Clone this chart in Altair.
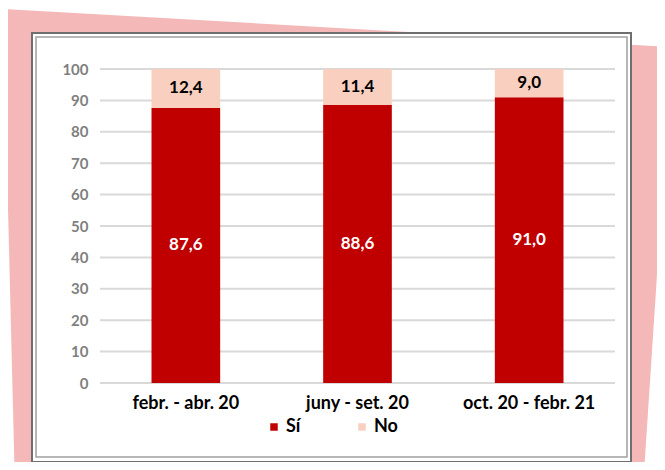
import altair as alt
import pandas as pd

categories = ["febr. - abr. 20", "juny - set. 20", "oct. 20 - febr. 21"]
si_values = [87.6, 88.6, 91.0]
no_values = [12.4, 11.4, 9.0]
series = ["Sí", "No"]
colors = ["#C00000", "#F9D0C0"]
y_ticks = list(range(0, 101, 10))

rows = []
for c, s, n in zip(categories, si_values, no_values):
    rows.append({"cat": c, "serie": "Sí", "value": s, "ord": 0})
    rows.append({"cat": c, "serie": "No", "value": n, "ord": 1})
df = pd.DataFrame(rows)

FONT = "Lato"
W, H = 515, 314
PAD = {"left": 92, "top": 61, "right": 42, "bottom": 79}

# decorative pink tilted sheet (custom symbol path, unit coords)
sheet_path = "M -0.8425 -0.5775 L 0.83 -0.4825 L 0.7575 0.62 L -0.8125 0.62 Z"
sheet = alt.Chart(alt.Data(values=[{}])).mark_point(
    shape=sheet_path, filled=True, fill="#F4B8B8", opacity=1, strokeWidth=0
).encode(x=alt.value(240), y=alt.value(171), size=alt.value(640000))

box_outer = alt.Chart(alt.Data(values=[{}])).mark_rect(
    fill="white", stroke="#6f6f6f", strokeWidth=2
).encode(x=alt.value(-68), x2=alt.value(531), y=alt.value(-36), y2=alt.value(393))

box_inner = alt.Chart(alt.Data(values=[{}])).mark_rect(
    fill="white", stroke="#a0a0a0", strokeWidth=1.5
).encode(x=alt.value(-64), x2=alt.value(527), y=alt.value(-32), y2=alt.value(388))

y_scale = alt.Scale(domain=[0, 100], nice=False)
y_axis = alt.Axis(values=y_ticks, title=None, labelFontSize=15,
                  labelFontWeight="bold", labelColor="#7F7F7F", labelPadding=12,
                  ticks=False, domain=False, grid=False, labelFont=FONT,
                  zindex=1, labelOverlap=False)

grid = alt.Chart(pd.DataFrame({"t": y_ticks})).mark_rule(
    color="#D9D9D9", strokeWidth=2
).encode(y=alt.Y("t:Q", scale=y_scale, axis=y_axis, title=None),
         x=alt.value(0), x2=alt.value(W))

base = alt.Chart(df).transform_stack(
    stack="value", as_=["v0", "v1"], groupby=["cat"], sort=[alt.SortField("ord")]
).transform_calculate(
    mid="(datum.v0 + datum.v1) / 2",
    label="replace(format(datum.value, '.1f'), '.', ',')",
)

x_axis = alt.Axis(labelAngle=0, title=None, labelFontSize=18,
                  labelFontWeight="bold", labelColor="#000000", labelPadding=11,
                  ticks=False, domain=False, grid=False, labelFont=FONT,
                  zindex=1, labelOverlap=False)
x_enc = alt.X("cat:N", sort=categories, title=None,
              scale=alt.Scale(paddingInner=0.6, paddingOuter=0.3), axis=x_axis)

bars = base.mark_bar().encode(
    x=x_enc,
    y=alt.Y("v0:Q", title=None, scale=y_scale, axis=y_axis),
    y2="v1:Q",
    color=alt.Color("serie:N", scale=alt.Scale(domain=series, range=colors),
                    legend=alt.Legend(title=None, orient="none", legendX=165,
                                      legendY=349, direction="horizontal",
                                      symbolType="square", symbolSize=56,
                                      symbolStrokeWidth=0, labelFontSize=18,
                                      labelFontWeight="bold", labelColor="#000000",
                                      labelFont=FONT, columnPadding=52,
                                      labelOffset=3, padding=0, zindex=1)),
)

texts = base.mark_text(fontSize=17, fontWeight="bold", font=FONT).encode(
    x=x_enc,
    y=alt.Y("mid:Q", title=None, scale=y_scale, axis=y_axis),
    text="label:N",
    color=alt.condition(alt.datum.serie == "Sí", alt.value("white"), alt.value("black")),
)

chart = alt.layer(sheet, box_outer, box_inner, grid, bars, texts).properties(
    width=W, height=H, padding=PAD,
    autosize=alt.AutoSizeParams(type="none"),
    background="white",
).configure_view(stroke=None).configure(font=FONT)

chart.save("out.html", embed_options={"renderer": "svg", "actions": False})
